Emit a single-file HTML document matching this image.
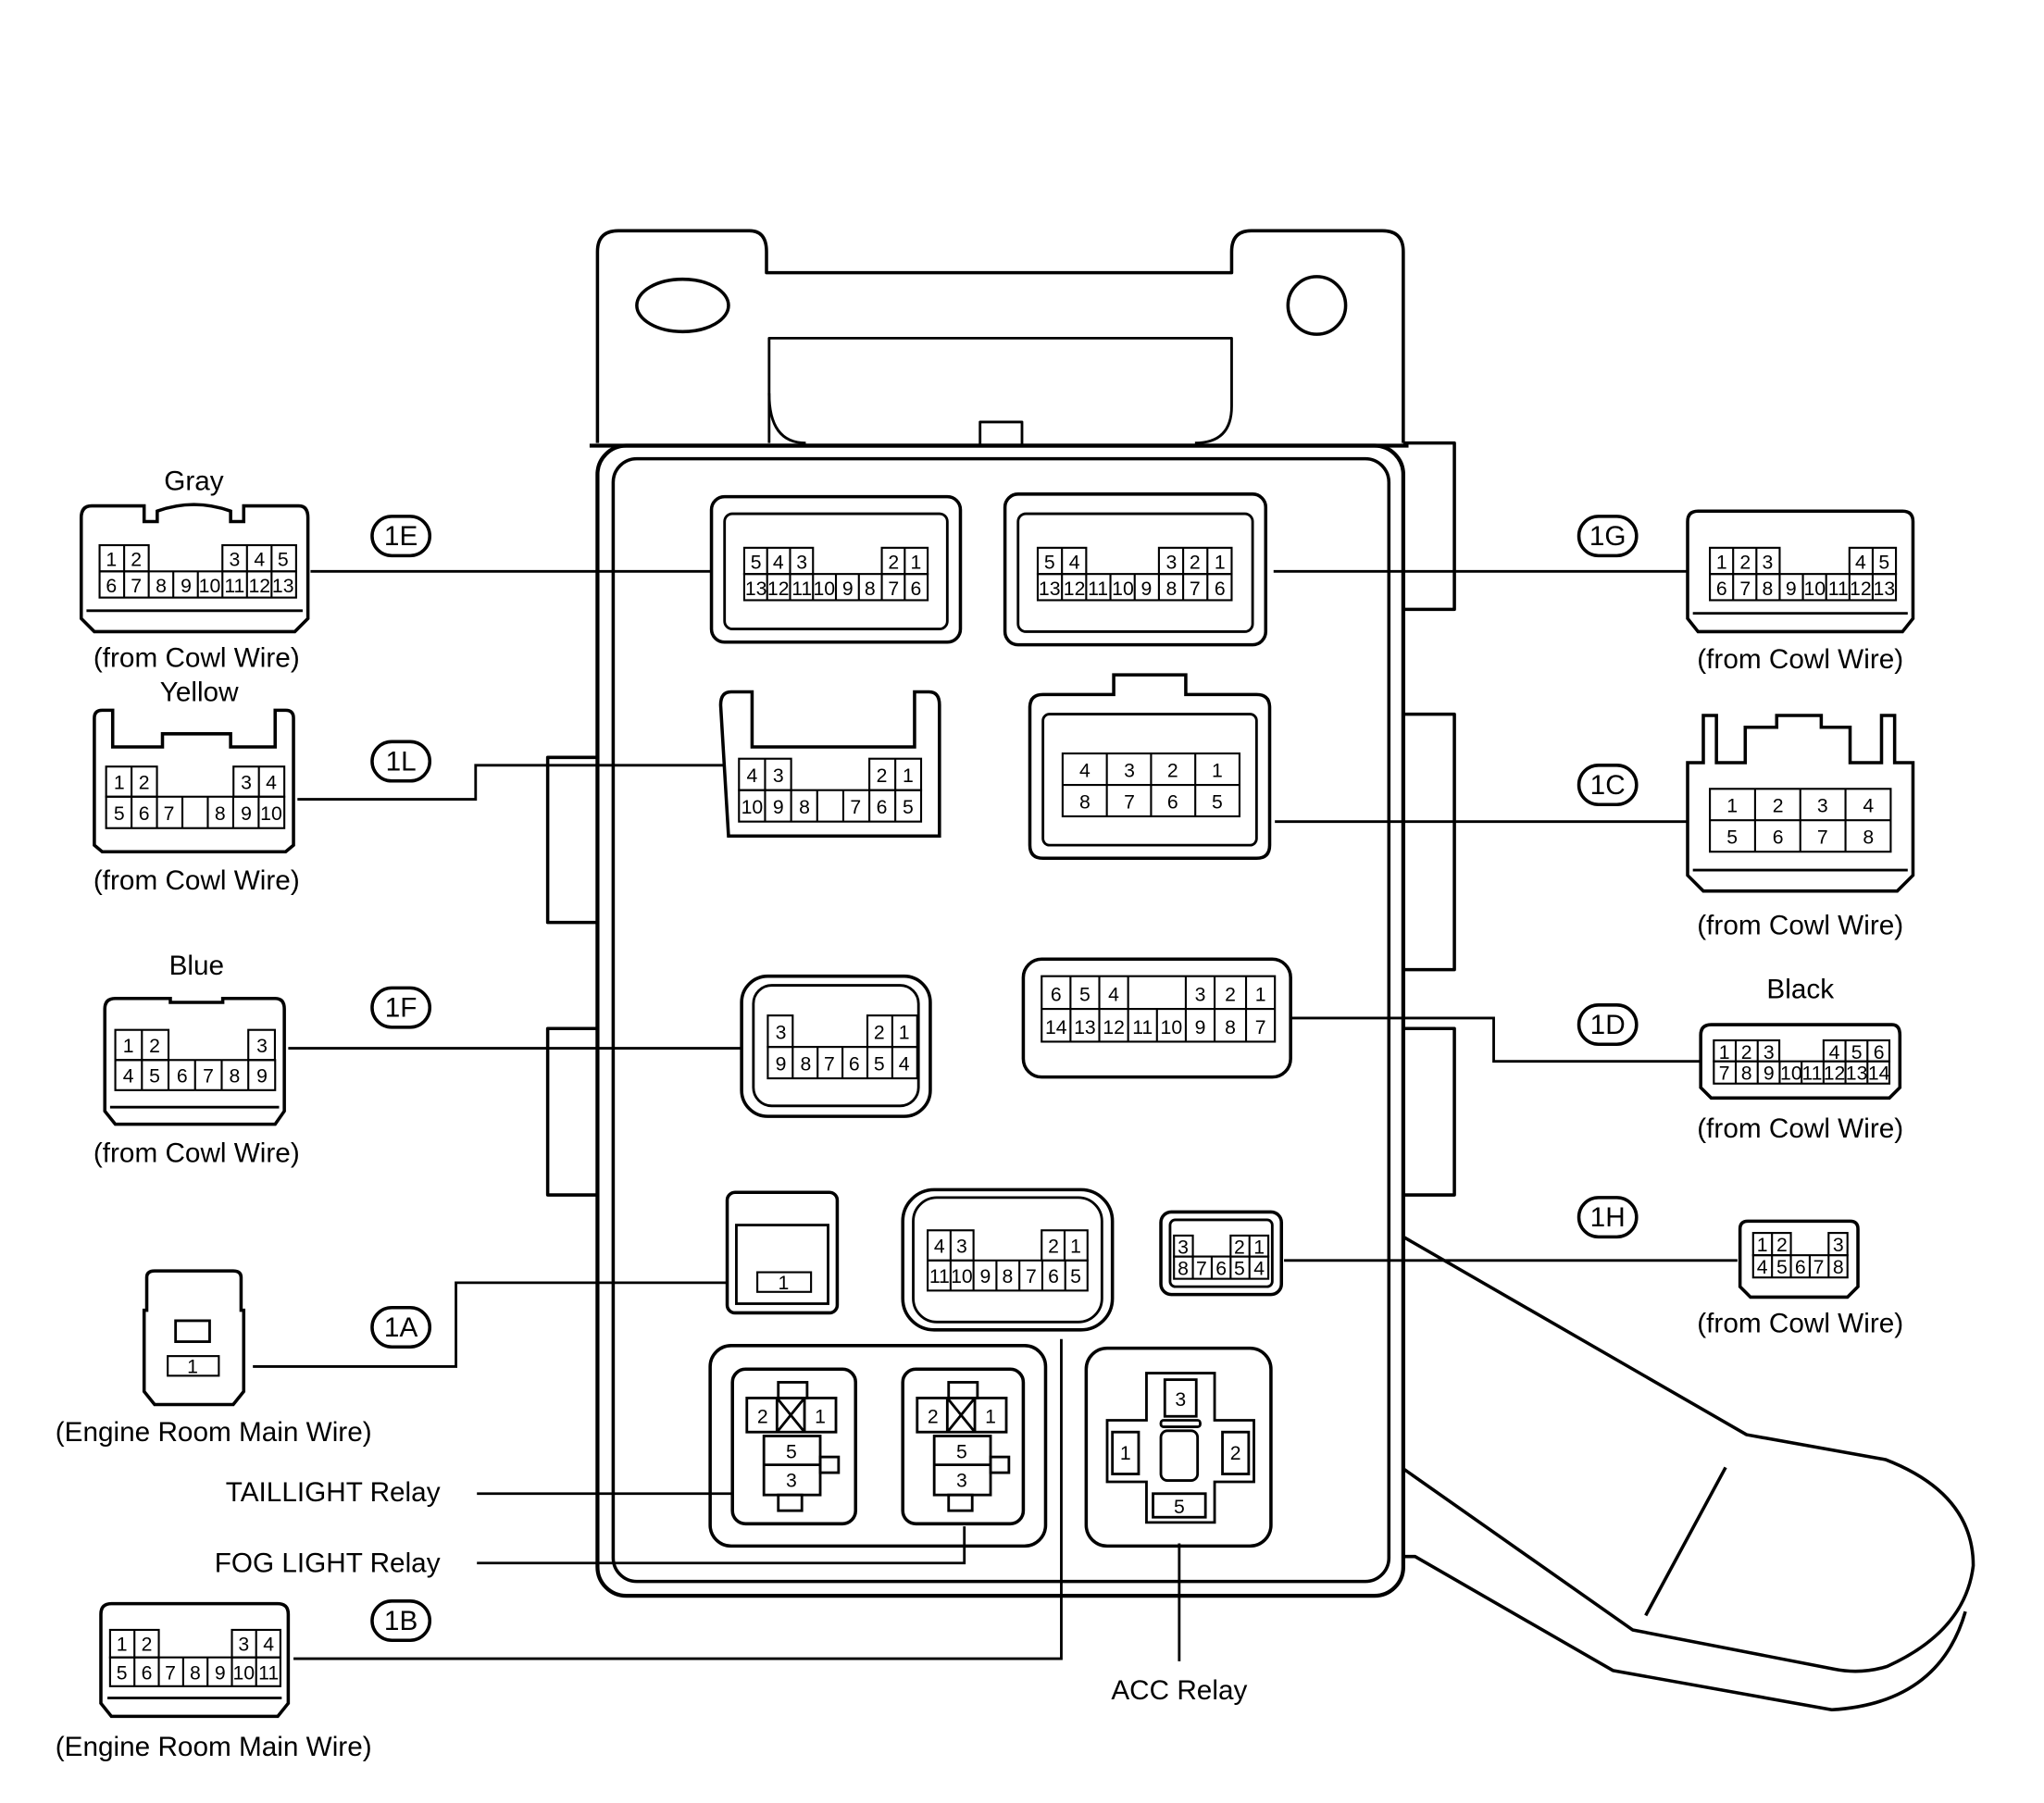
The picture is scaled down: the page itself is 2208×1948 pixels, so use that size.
<!DOCTYPE html>
<html><head><meta charset="utf-8">
<style>
html,body{margin:0;padding:0;background:#fff;}
svg{display:block;}
text{font-family:"Liberation Sans",sans-serif;fill:#000;}
.p{font-size:15px;text-anchor:middle;font-family:"Liberation Sans Narrow","Liberation Sans",sans-serif;}
.l{font-size:21px;text-anchor:middle;}
.c{font-size:21px;text-anchor:middle;}
</style></head><body>
<svg width="2208" height="1948" viewBox="0 0 1560 1376" xmlns="http://www.w3.org/2000/svg">
<g fill="none" stroke="#000" stroke-width="2.5" stroke-linejoin="round">
<!-- top bracket -->
<path d="M456,338 V192 Q456,176 472,176 H572 Q585,176 585,192 V208 H940 V192 Q940,176 955,176 H1055 Q1071,176 1071,192 V338"/>
<ellipse cx="521" cy="233" rx="35" ry="20"/>
<ellipse cx="1005" cy="233" rx="22" ry="22"/>
<path d="M587,338 Q587,290 587,258 H940 V310 Q940,338 912,338" stroke-width="2"/>
<path d="M587,300 Q587,338 615,338" stroke-width="2"/>
<rect x="748" y="322" width="32" height="18" stroke-width="2"/>
<line x1="450" y1="340" x2="1075" y2="340" stroke-width="3"/>
<!-- main body -->
<rect x="456" y="340" width="615" height="878" rx="22" stroke-width="3"/>
<rect x="468" y="350" width="592" height="857" rx="18" stroke-width="2.5"/>
<!-- side tabs -->
<path d="M1071,338 H1110 V465 H1071"/>
<path d="M1071,545 H1110 V740 H1071"/>
<path d="M1071,785 H1110 V912 H1071"/>
<path d="M457,578 H418 V704 H457"/>
<path d="M457,785 H418 V912 H457"/>
<!-- handle -->
<path d="M1071,944 L1333,1095 L1439,1114 Q1506,1140 1506,1195 Q1500,1245 1440,1272 Q1420,1278 1400,1274 L1246,1244 L1071,1121"/>
<path d="M1071,1188 L1080,1188 L1231,1275 L1398,1305 Q1480,1300 1500,1230"/>
<line x1="1317" y1="1120" x2="1256" y2="1233"/>
</g>

<!-- connector lines -->
<g fill="none" stroke="#000" stroke-width="2">
<polyline points="237,436 543,436"/>
<polyline points="227,610 363,610 363,584 553,584"/>
<polyline points="220,800 566,800"/>
<polyline points="193,1043 348,1043 348,979 555,979"/>
<polyline points="224,1266 810,1266 810,1022"/>
<polyline points="364,1140 559,1140"/>
<polyline points="364,1193 736,1193 736,1165"/>
<polyline points="900,1178 900,1268"/>
<polyline points="972,436 1287,436"/>
<polyline points="973,627 1287,627"/>
<polyline points="985,777 1140,777 1140,810 1298,810"/>
<polyline points="980,962 1326,962"/>
</g>

<!-- circle labels -->
<g fill="#fff" stroke="#000" stroke-width="2.5">
<rect x="284" y="394" width="44" height="30" rx="15"/>
<rect x="284" y="566" width="44" height="30" rx="15"/>
<rect x="284" y="754" width="44" height="30" rx="15"/>
<rect x="284" y="998" width="44" height="30" rx="15"/>
<rect x="284" y="1222" width="44" height="30" rx="15"/>
<rect x="1205" y="394" width="44" height="30" rx="15"/>
<rect x="1205" y="584" width="44" height="30" rx="15"/>
<rect x="1205" y="767" width="44" height="30" rx="15"/>
<rect x="1205" y="914" width="44" height="30" rx="15"/>
</g>
<g class="c">
<text x="306" y="416">1E</text><text x="306" y="588">1L</text><text x="306" y="776">1F</text>
<text x="306" y="1020">1A</text><text x="306" y="1244">1B</text>
<text x="1227" y="416">1G</text><text x="1227" y="606">1C</text><text x="1227" y="789">1D</text><text x="1227" y="936">1H</text>
</g>

<!-- labels -->
<g class="l">
<text x="148" y="374">Gray</text>
<text x="150" y="509">(from Cowl Wire)</text>
<text x="152" y="535">Yellow</text>
<text x="150" y="679">(from Cowl Wire)</text>
<text x="150" y="744">Blue</text>
<text x="150" y="887">(from Cowl Wire)</text>
<text x="163" y="1100">(Engine Room Main Wire)</text>
<text x="163" y="1340">(Engine Room Main Wire)</text>
<text x="1374" y="510">(from Cowl Wire)</text>
<text x="1374" y="713">(from Cowl Wire)</text>
<text x="1374" y="762">Black</text>
<text x="1374" y="868">(from Cowl Wire)</text>
<text x="1374" y="1017">(from Cowl Wire)</text>
<text x="900" y="1297">ACC Relay</text>
<text x="336" y="1146" text-anchor="end">TAILLIGHT Relay</text>
<text x="336" y="1200" text-anchor="end">FOG LIGHT Relay</text>
</g>

<!-- connector bodies -->
<g fill="none" stroke="#000" stroke-width="2.5">
<!-- left Gray -->
<path d="M62,395 Q62,386 70,386 H110 V398 H120 V390 Q148,380 176,390 V398 H186 V386 H228 Q235,386 235,395 V472 L225,482 H72 L62,472 Z"/>
<line x1="66" y1="466" x2="231" y2="466" stroke-width="2"/>
<!-- left Yellow -->
<path d="M72,548 Q72,542 78,542 H86 V570 H124 V560 H176 V570 H210 V542 H218 Q224,542 224,548 V645 L218,650 H78 L72,645 Z"/>
<!-- left Blue -->
<path d="M80,770 Q80,762 88,762 H130 V765 H170 V762 H210 Q217,762 217,770 V848 L210,858 H88 L80,848 Z"/>
<line x1="84" y1="845" x2="213" y2="845" stroke-width="2"/>
<!-- 1A left -->
<path d="M112,1000 V975 Q112,970 118,970 H178 Q184,970 184,975 V1000 H186 V1062 L178,1072 H118 L110,1062 V1000 Z"/>
<rect x="134" y="1008" width="26" height="16" stroke-width="2"/>
<!-- 1B left -->
<path d="M77,1232 Q77,1224 85,1224 H212 Q220,1224 220,1232 V1300 L212,1310 H85 L77,1300 Z"/>
<line x1="82" y1="1296" x2="215" y2="1296" stroke-width="2"/>
<!-- right 1G -->
<path d="M1288,398 Q1288,390 1296,390 H1452 Q1460,390 1460,398 V472 L1452,482 H1296 L1288,472 Z"/>
<line x1="1292" y1="468" x2="1456" y2="468" stroke-width="2"/>
<!-- right 1C -->
<path d="M1288,588 V582 H1300 V546 H1310 V582 H1332 V555 H1356 V546 H1390 V555 H1412 V582 H1436 V546 H1446 V582 H1460 V668 L1448,680 H1300 L1288,668 Z"/>
<line x1="1292" y1="664" x2="1456" y2="664" stroke-width="2"/>
<!-- right 1D -->
<path d="M1298,790 Q1298,782 1306,782 H1444 Q1450,782 1450,790 V830 L1442,838 H1306 L1298,830 Z"/>
<!-- right 1H -->
<path d="M1328,938 Q1328,932 1334,932 H1412 Q1418,932 1418,938 V982 L1410,990 H1336 L1328,982 Z"/>

<!-- inner 1E -->
<rect x="543" y="379" width="190" height="111" rx="10"/>
<rect x="553" y="392" width="170" height="88" rx="6" stroke-width="2"/>
<!-- inner 1G -->
<rect x="767" y="377" width="199" height="115" rx="10"/>
<rect x="777" y="392" width="179" height="90" rx="6" stroke-width="2"/>
<!-- inner 1L -->
<path d="M550,538 Q550,528 558,528 H574 V570 H698 V528 H709 Q717,528 717,538 V638 H556 Z"/>
<!-- inner 1C -->
<path d="M786,540 Q786,530 796,530 H850 V515 H905 V530 H959 Q969,530 969,540 V645 Q969,655 959,655 H796 Q786,655 786,645 Z"/>
<rect x="796" y="545" width="163" height="100" rx="5" stroke-width="2"/>
<!-- inner 1F -->
<rect x="566" y="745" width="144" height="107" rx="20"/>
<rect x="575" y="752" width="126" height="92" rx="14" stroke-width="2"/>
<!-- inner 1D -->
<rect x="781" y="732" width="204" height="90" rx="14"/>
<!-- inner 1A -->
<rect x="555" y="910" width="84" height="92" rx="6"/>
<rect x="562" y="935" width="70" height="60" stroke-width="2"/>
<!-- inner 1B -->
<rect x="689" y="908" width="160" height="107" rx="24"/>
<rect x="697" y="914" width="144" height="95" rx="18" stroke-width="2"/>
<!-- inner 1H -->
<rect x="886" y="925" width="92" height="63" rx="8"/>
<rect x="893" y="931" width="78" height="51" rx="4" stroke-width="2"/>
<!-- relay group -->
<rect x="542" y="1027" width="256" height="153" rx="16"/>
<rect x="559" y="1045" width="94" height="118" rx="10"/>
<rect x="689" y="1045" width="92" height="118" rx="10"/>
<rect x="829" y="1029" width="141" height="151" rx="16"/>
</g>

<!-- pin grids -->
<g fill="none" stroke="#000" stroke-width="1.5">
<!-- left Gray -->
<rect x="76" y="416" width="37.5" height="20"/><line x1="94.75" y1="416" x2="94.75" y2="436"/>
<rect x="169.75" y="416" width="56.25" height="20"/><line x1="188.5" y1="416" x2="188.5" y2="436"/><line x1="207.25" y1="416" x2="207.25" y2="436"/>
<rect x="76" y="436" width="150" height="20"/>
<path d="M94.75,436v20M113.5,436v20M132.25,436v20M151,436v20M169.75,436v20M188.5,436v20M207.25,436v20"/>
<!-- left Yellow -->
<rect x="81" y="585" width="38.8" height="23"/><line x1="100.4" y1="585" x2="100.4" y2="608"/>
<rect x="178.2" y="585" width="38.8" height="23"/><line x1="197.6" y1="585" x2="197.6" y2="608"/>
<rect x="81" y="608" width="136" height="24"/>
<path d="M100.4,608v24M119.8,608v24M139.2,608v24M158.6,608v24M178,608v24M197.4,608v24"/>
<!-- left Blue -->
<rect x="88" y="786" width="40.6" height="23"/><line x1="108.3" y1="786" x2="108.3" y2="809"/>
<rect x="189.5" y="786" width="20.3" height="23"/>
<rect x="88" y="809" width="122" height="23"/>
<path d="M108.3,809v23M128.6,809v23M148.9,809v23M169.2,809v23M189.5,809v23"/>
<!-- 1A left -->
<rect x="128" y="1035" width="39" height="15"/>
<!-- 1B left -->
<rect x="84" y="1244" width="37.2" height="21"/><line x1="102.6" y1="1244" x2="102.6" y2="1265"/>
<rect x="177" y="1244" width="37" height="21"/><line x1="195.5" y1="1244" x2="195.5" y2="1265"/>
<rect x="84" y="1265" width="130" height="22"/>
<path d="M102.6,1265v22M121.2,1265v22M139.8,1265v22M158.4,1265v22M177,1265v22M195.5,1265v22"/>
<!-- inner 1E -->
<rect x="568" y="418" width="52.5" height="20"/><path d="M585.5,418v20M603,418v20"/>
<rect x="673" y="418" width="35" height="20"/><path d="M690.5,418v20"/>
<rect x="568" y="438" width="140" height="20"/>
<path d="M585.5,438v20M603,438v20M620.5,438v20M638,438v20M655.5,438v20M673,438v20M690.5,438v20"/>
<!-- inner 1G -->
<rect x="792" y="418" width="37" height="20"/><path d="M810.5,418v20"/>
<rect x="884.5" y="418" width="55.5" height="20"/><path d="M903,418v20M921.5,418v20"/>
<rect x="792" y="438" width="148" height="20"/>
<path d="M810.5,438v20M829,438v20M847.5,438v20M866,438v20M884.5,438v20M903,438v20M921.5,438v20"/>
<!-- inner 1L -->
<rect x="564" y="579" width="39.8" height="24"/><path d="M583.9,579v24"/>
<rect x="663.5" y="579" width="39.5" height="24"/><path d="M683.3,579v24"/>
<rect x="564" y="603" width="139" height="24"/>
<path d="M583.9,603v24M603.8,603v24M623.7,603v24M643.6,603v24M663.5,603v24M683.3,603v24"/>
<!-- inner 1C -->
<rect x="811" y="575" width="135" height="48"/>
<path d="M811,599h135M844.75,575v48M878.5,575v48M912.25,575v48"/>
<!-- inner 1F -->
<rect x="586" y="775" width="19" height="24"/>
<rect x="662" y="775" width="38" height="24"/><path d="M681,775v24"/>
<rect x="586" y="799" width="114" height="24"/>
<path d="M605,799v24M624,799v24M643,799v24M662,799v24M681,799v24"/>
<!-- inner 1D -->
<rect x="795" y="745" width="178" height="50"/>
<path d="M795,770h178M817,745v50M839,745v50M861,745v50M883,770v25M905,745v50M927,745v50M951,745v50"/>
<!-- inner 1A -->
<rect x="578" y="971" width="41" height="15"/>
<!-- inner 1B -->
<rect x="708" y="939" width="35" height="23"/><path d="M725.5,939v23"/>
<rect x="795" y="939" width="35" height="23"/><path d="M812.5,939v23"/>
<rect x="708" y="962" width="122" height="23"/>
<path d="M725.5,962v23M743,962v23M760.5,962v23M778,962v23M795.5,962v23M813,962v23"/>
<!-- inner 1H -->
<rect x="896" y="943" width="14.4" height="16"/>
<rect x="939.2" y="943" width="28.8" height="16"/><path d="M953.6,943v16"/>
<rect x="896" y="959" width="72" height="17"/>
<path d="M910.4,959v17M924.8,959v17M939.2,959v17M953.6,959v17"/>
<!-- right 1G -->
<rect x="1305" y="418" width="53.25" height="20"/><path d="M1322.75,418v20M1340.5,418v20"/>
<rect x="1411.5" y="418" width="35.5" height="20"/><path d="M1429.25,418v20"/>
<rect x="1305" y="438" width="142" height="20"/>
<path d="M1322.75,438v20M1340.5,438v20M1358.25,438v20M1376,438v20M1393.75,438v20M1411.5,438v20M1429.25,438v20"/>
<!-- right 1C -->
<rect x="1305" y="602" width="138" height="48"/>
<path d="M1305,626h138M1339.5,602v48M1374,602v48M1408.5,602v48"/>
<!-- right 1D -->
<rect x="1308" y="794" width="50" height="16"/><path d="M1324.75,794v16M1341.5,794v16"/>
<rect x="1391.75" y="794" width="50.25" height="16"/><path d="M1408.5,794v16M1425.25,794v16"/>
<rect x="1308" y="810" width="134" height="17"/>
<path d="M1324.75,810v17M1341.5,810v17M1358.25,810v17M1375,810v17M1391.75,810v17M1408.5,810v17M1425.25,810v17"/>
<!-- right 1H -->
<rect x="1338" y="941" width="28.8" height="17"/><path d="M1352.4,941v17"/>
<rect x="1395.6" y="941" width="14.4" height="17"/>
<rect x="1338" y="958" width="72" height="17"/>
<path d="M1352.4,958v17M1366.8,958v17M1381.2,958v17M1395.6,958v17"/>
</g>

<!-- relays -->
<g fill="none" stroke="#000" stroke-width="2">
<!-- taillight relay -->
<rect x="594" y="1055" width="22" height="12"/>
<rect x="570" y="1067" width="68" height="26"/>
<path d="M593,1067v26M614,1067v26M593,1067l21,26M614,1067l-21,26"/>
<rect x="583" y="1096" width="43" height="45"/><path d="M583,1118h43"/>
<rect x="626" y="1112" width="14" height="12"/>
<rect x="594" y="1141" width="18" height="12"/>
<!-- fog relay -->
<rect x="724" y="1055" width="22" height="12"/>
<rect x="700" y="1067" width="68" height="26"/>
<path d="M723,1067v26M744,1067v26M723,1067l21,26M744,1067l-21,26"/>
<rect x="713" y="1096" width="43" height="45"/><path d="M713,1118h43"/>
<rect x="756" y="1112" width="14" height="12"/>
<rect x="724" y="1141" width="18" height="12"/>
<!-- ACC relay -->
<path d="M875,1048 H927 V1084 H957 V1131 H927 V1162 H875 V1131 H845 V1084 H875 Z"/>
<rect x="889" y="1053" width="24" height="28"/>
<rect x="849" y="1093" width="20" height="32"/>
<rect x="933" y="1093" width="20" height="32"/>
<rect x="880" y="1140" width="40" height="18"/>
<rect x="886" y="1092" width="28" height="38" rx="5"/>
<rect x="886" y="1084" width="30" height="5" rx="2"/>
</g>

<!-- pin numbers -->
<g class="p">
<!-- left Gray -->
<text x="85" y="432">1</text><text x="104" y="432">2</text><text x="179" y="432">3</text><text x="198" y="432">4</text><text x="216" y="432">5</text>
<text x="85" y="452">6</text><text x="104" y="452">7</text><text x="123" y="452">8</text><text x="142" y="452">9</text><text x="160" y="452">10</text><text x="179" y="452">11</text><text x="198" y="452">12</text><text x="216" y="452">13</text>
<!-- Yellow -->
<text x="91" y="602">1</text><text x="110" y="602">2</text><text x="188" y="602">3</text><text x="207" y="602">4</text>
<text x="91" y="626">5</text><text x="110" y="626">6</text><text x="129" y="626">7</text><text x="168" y="626">8</text><text x="188" y="626">9</text><text x="207" y="626">10</text>
<!-- Blue -->
<text x="98" y="803">1</text><text x="118" y="803">2</text><text x="200" y="803">3</text>
<text x="98" y="826">4</text><text x="118" y="826">5</text><text x="139" y="826">6</text><text x="159" y="826">7</text><text x="179" y="826">8</text><text x="200" y="826">9</text>
<text x="147" y="1048">1</text>
<!-- 1B left -->
<text x="93" y="1260">1</text><text x="112" y="1260">2</text><text x="186" y="1260">3</text><text x="205" y="1260">4</text>
<text x="93" y="1282">5</text><text x="112" y="1282">6</text><text x="130" y="1282">7</text><text x="149" y="1282">8</text><text x="168" y="1282">9</text><text x="186" y="1282">10</text><text x="205" y="1282">11</text>
<!-- inner 1E -->
<text x="577" y="434">5</text><text x="594" y="434">4</text><text x="612" y="434">3</text><text x="682" y="434">2</text><text x="699" y="434">1</text>
<text x="577" y="454">13</text><text x="594" y="454">12</text><text x="612" y="454">11</text><text x="629" y="454">10</text><text x="647" y="454">9</text><text x="664" y="454">8</text><text x="682" y="454">7</text><text x="699" y="454">6</text>
<!-- inner 1G -->
<text x="801" y="434">5</text><text x="820" y="434">4</text><text x="894" y="434">3</text><text x="912" y="434">2</text><text x="931" y="434">1</text>
<text x="801" y="454">13</text><text x="820" y="454">12</text><text x="838" y="454">11</text><text x="857" y="454">10</text><text x="875" y="454">9</text><text x="894" y="454">8</text><text x="912" y="454">7</text><text x="931" y="454">6</text>
<!-- inner 1L -->
<text x="574" y="597">4</text><text x="594" y="597">3</text><text x="673" y="597">2</text><text x="693" y="597">1</text>
<text x="574" y="621">10</text><text x="594" y="621">9</text><text x="614" y="621">8</text><text x="653" y="621">7</text><text x="673" y="621">6</text><text x="693" y="621">5</text>
<!-- inner 1C -->
<text x="828" y="593">4</text><text x="862" y="593">3</text><text x="895" y="593">2</text><text x="929" y="593">1</text>
<text x="828" y="617">8</text><text x="862" y="617">7</text><text x="895" y="617">6</text><text x="929" y="617">5</text>
<!-- inner 1F -->
<text x="596" y="793">3</text><text x="671" y="793">2</text><text x="690" y="793">1</text>
<text x="596" y="817">9</text><text x="615" y="817">8</text><text x="633" y="817">7</text><text x="652" y="817">6</text><text x="671" y="817">5</text><text x="690" y="817">4</text>
<!-- inner 1D -->
<text x="806" y="764">6</text><text x="828" y="764">5</text><text x="850" y="764">4</text><text x="916" y="764">3</text><text x="939" y="764">2</text><text x="962" y="764">1</text>
<text x="806" y="789">14</text><text x="828" y="789">13</text><text x="850" y="789">12</text><text x="872" y="789">11</text><text x="894" y="789">10</text><text x="916" y="789">9</text><text x="939" y="789">8</text><text x="962" y="789">7</text>
<!-- inner 1A -->
<text x="598" y="984">1</text>
<!-- inner 1B -->
<text x="717" y="956">4</text><text x="734" y="956">3</text><text x="804" y="956">2</text><text x="821" y="956">1</text>
<text x="717" y="979">11</text><text x="734" y="979">10</text><text x="752" y="979">9</text><text x="769" y="979">8</text><text x="787" y="979">7</text><text x="804" y="979">6</text><text x="821" y="979">5</text>
<!-- inner 1H -->
<text x="903" y="957">3</text><text x="946" y="957">2</text><text x="961" y="957">1</text>
<text x="903" y="973">8</text><text x="917" y="973">7</text><text x="932" y="973">6</text><text x="946" y="973">5</text><text x="961" y="973">4</text>
<!-- right 1G -->
<text x="1314" y="434">1</text><text x="1332" y="434">2</text><text x="1349" y="434">3</text><text x="1420" y="434">4</text><text x="1438" y="434">5</text>
<text x="1314" y="454">6</text><text x="1332" y="454">7</text><text x="1349" y="454">8</text><text x="1367" y="454">9</text><text x="1385" y="454">10</text><text x="1403" y="454">11</text><text x="1420" y="454">12</text><text x="1438" y="454">13</text>
<!-- right 1C -->
<text x="1322" y="620">1</text><text x="1357" y="620">2</text><text x="1391" y="620">3</text><text x="1426" y="620">4</text>
<text x="1322" y="644">5</text><text x="1357" y="644">6</text><text x="1391" y="644">7</text><text x="1426" y="644">8</text>
<!-- right 1D -->
<text x="1316" y="808">1</text><text x="1333" y="808">2</text><text x="1350" y="808">3</text><text x="1400" y="808">4</text><text x="1417" y="808">5</text><text x="1434" y="808">6</text>
<text x="1316" y="824">7</text><text x="1333" y="824">8</text><text x="1350" y="824">9</text><text x="1367" y="824">10</text><text x="1383" y="824">11</text><text x="1400" y="824">12</text><text x="1417" y="824">13</text><text x="1434" y="824">14</text>
<!-- right 1H -->
<text x="1345" y="955">1</text><text x="1360" y="955">2</text><text x="1403" y="955">3</text>
<text x="1345" y="972">4</text><text x="1360" y="972">5</text><text x="1374" y="972">6</text><text x="1388" y="972">7</text><text x="1403" y="972">8</text>
<!-- relays -->
<text x="582" y="1086">2</text><text x="626" y="1086">1</text><text x="604" y="1113">5</text><text x="604" y="1135">3</text>
<text x="712" y="1086">2</text><text x="756" y="1086">1</text><text x="734" y="1113">5</text><text x="734" y="1135">3</text>
<text x="901" y="1073">3</text><text x="859" y="1114">1</text><text x="943" y="1114">2</text><text x="900" y="1155">5</text>
</g>
</svg>
</body></html>
